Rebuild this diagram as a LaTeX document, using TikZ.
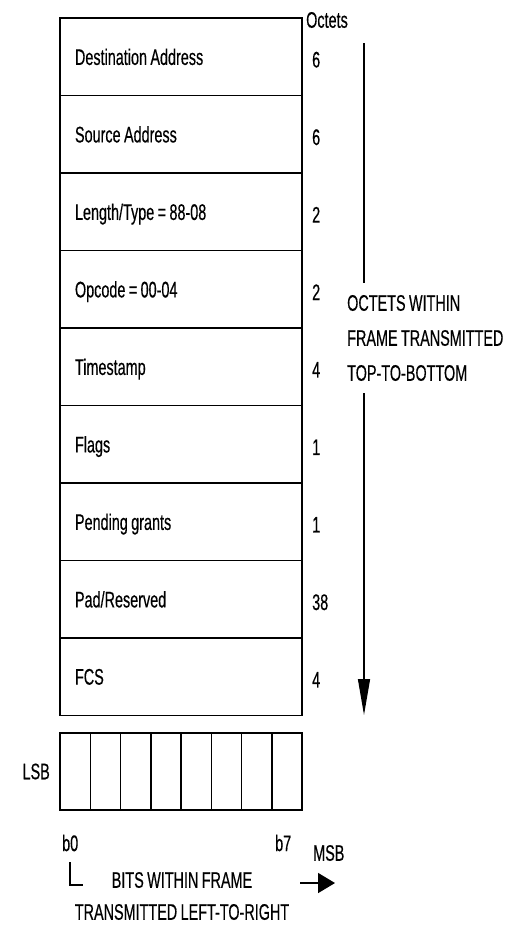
\documentclass[tikz,border=0pt]{standalone}
\usepackage{fontspec}
\setmainfont{Liberation Sans}[FakeStretch=0.64, WordSpace=0.85, FakeBold=0.4]
\usepackage{tikz}
\usetikzlibrary{arrows.meta, positioning}
\tikzset{
	fieldbox/.style={draw, line width=1.8pt, minimum width=242pt, minimum height=77.5pt, text width=212pt, text depth=0pt, inner xsep=15pt, inner ysep=0pt, outer sep=0pt, align=left, execute at begin node={\spaceskip=0pt\xspaceskip=0pt}},
	octnum/.style={inner sep=0pt, anchor=west, yshift=-3pt},
	bitcell/.style={draw, line width=1.5pt, minimum width=30.25pt, minimum height=77pt, inner sep=0pt, outer sep=0pt},
	downarr/.style={-{Triangle[width=12pt, length=36pt]}, line width=1.3pt},
	rightarr/.style={-{Triangle[width=20pt, length=17pt]}, line width=1.5pt},
}

\begin{document}
\begin{tikzpicture}[x=1pt, y=-1pt, every node/.style={font=\fontsize{22.5}{27}\selectfont, inner sep=0pt}]
	\useasboundingbox (0,0) rectangle (515,926);
	% Frame fields, top to bottom
	\node[fieldbox] (dest) at (181,56.75) {Destination Address};
	\node[fieldbox, below=0pt of dest] (src) {Source Address};
	\node[fieldbox, below=0pt of src] (lentype) {Length/Type = 88-08};
	\node[fieldbox, below=0pt of lentype] (opcode) {Opcode = 00-04};
	\node[fieldbox, below=0pt of opcode] (tstamp) {Timestamp};
	\node[fieldbox, below=0pt of tstamp] (flags) {Flags};
	\node[fieldbox, below=0pt of flags] (pending) {Pending grants};
	\node[fieldbox, below=0pt of pending] (pad) {Pad/Reserved};
	\node[fieldbox, below=0pt of pad] (fcs) {FCS};
	% Octet counts
	\node[anchor=west] (octhdr) at (306,20) {Octets};
	\node[octnum, right=10pt of dest] (ndest) {6};
	\node[octnum, right=10pt of src] (nsrc) {6};
	\node[octnum, right=10pt of lentype] (nlentype) {2};
	\node[octnum, right=10pt of opcode] (nopcode) {2};
	\node[octnum, right=10pt of tstamp] (ntstamp) {4};
	\node[octnum, right=10pt of flags] (nflags) {1};
	\node[octnum, right=10pt of pending] (npending) {1};
	\node[octnum, right=10pt of pad] (npad) {38};
	\node[octnum, right=10pt of fcs] (nfcs) {4};
	% Top-to-bottom arrow
	\coordinate (octtop) at (364,43);
	\coordinate (octtip) at (364,715);
	\node[anchor=west, align=left, font=\fontsize{22.5}{35}\selectfont, inner ysep=12pt] (octmsg) at (347,338) {OCTETS WITHIN\\FRAME TRANSMITTED\\TOP-TO-BOTTOM};
	\draw[line width=1.3pt] (octtop) -- (octtop |- octmsg.north);
	\draw[downarr] (octtip |- octmsg.south) -- (octtip);
	% Bit row
	\foreach \i in {0,...,7}
		\node[bitcell] (bit\i) at ({75.125+30.25*\i},771.5) {};
	\node[left=10pt of bit0] (lsb) {LSB};
	\node[anchor=west] (b0) at (62,843) {b0};
	\node[anchor=west] (b7) at (275,843) {b7};
	\node[anchor=west] (msb) at (313,853) {MSB};
	\draw[line width=1.3pt] (70,862) |- (83,885);
	\node[align=center, font=\fontsize{22.5}{32}\selectfont] (bitmsg) at (182,896) {BITS WITHIN FRAME\\TRANSMITTED LEFT-TO-RIGHT};
	\coordinate (msbfrom) at (300,883);
	\coordinate (msbto) at (335,883);
	\draw[rightarr] (msbfrom) -- (msbto);
\end{tikzpicture}
\end{document}
